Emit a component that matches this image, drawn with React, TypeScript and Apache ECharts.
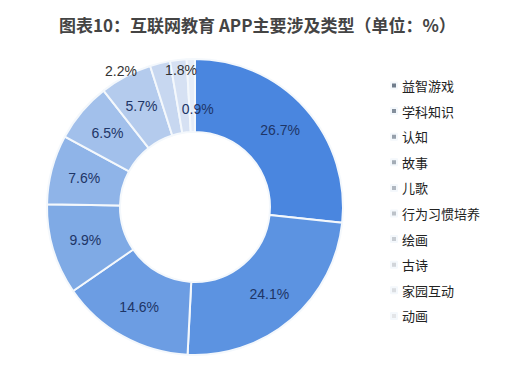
import React, { useEffect, useRef } from "react";
import * as echarts from "echarts";

const categories = ["益智游戏", "学科知识", "认知", "故事", "儿歌", "行为习惯培养", "绘画", "古诗", "家园互动", "动画"];
const values = [26.7, 24.1, 14.6, 9.9, 7.6, 6.5, 5.7, 2.2, 1.8, 0.9];
const sliceColors = ["#4a86df", "#5c93e1", "#6c9de3", "#7faae5", "#8fb4e8", "#a2c0eb", "#b4cbed", "#c7d7f0", "#d6e1f3", "#e6edf8"];
const legendColors = ["#6f7c8c", "#848f9c", "#959fab", "#a3acb6", "#b0b7c0", "#bcc2c9", "#c7ccd2", "#d1d5da", "#dadde1", "#e3e5e8"];
const titleText = "图表10：互联网教育 APP主要涉及类型（单位：%）";

// label nudges (px) for the small slices near the top
const labelNudge: Record<number, { dx: number; dy: number }> = {
  7: { dx: -47, dy: -25 },
  8: { dx: -1, dy: -23 },
  9: { dx: 6, dy: 16 },
};

export default function App() {
  const ref = useRef<HTMLDivElement>(null);
  useEffect(() => {
    if (!ref.current) return;
    const chart = echarts.init(ref.current, undefined, { renderer: "svg" });
    chart.setOption({
      animation: false,
      backgroundColor: "#ffffff",
      title: {
        text: titleText,
        left: 54,
        top: 11,
        textStyle: {
          fontFamily: "Noto Sans CJK SC",
          fontWeight: "bold",
          fontSize: 17,
          color: "#444444",
        },
      },
      legend: {
        orient: "vertical",
        left: 385,
        top: 74,
        itemWidth: 6,
        itemHeight: 6,
        itemGap: 12.6,
        icon: "rect",
        textStyle: {
          fontFamily: "Noto Sans CJK SC",
          fontSize: 13,
          color: "#222222",
        },
        data: categories.map((c, i) => ({ name: c, itemStyle: { color: legendColors[i] } })),
      },
      series: [
        {
          type: "pie",
          center: [195, 207],
          radius: [75, 148],
          startAngle: 90,
          clockwise: true,
          avoidLabelOverlap: false,
          itemStyle: { borderColor: "#f4f8fc", borderWidth: 2 },
          label: {
            show: true,
            position: "inside",
            formatter: "{c}%",
            fontFamily: "Liberation Sans",
            fontSize: 14,
            color: "#1e3566",
          },
          labelLine: { show: false },
          labelLayout: (p: any) => {
            const n = labelNudge[p.dataIndex];
            return n ? { dx: n.dx, dy: n.dy } : {};
          },
          data: categories.map((c, i) => ({
            name: c,
            value: values[i],
            itemStyle: { color: sliceColors[i] },
            label: i === 7 || i === 8 ? { color: "#333333" } : undefined,
          })),
        },
      ],
    });
    return () => chart.dispose();
  }, []);
  return <div ref={ref} style={{ position: "fixed", left: 0, top: 0, width: 508, height: 366 }} />;
}
